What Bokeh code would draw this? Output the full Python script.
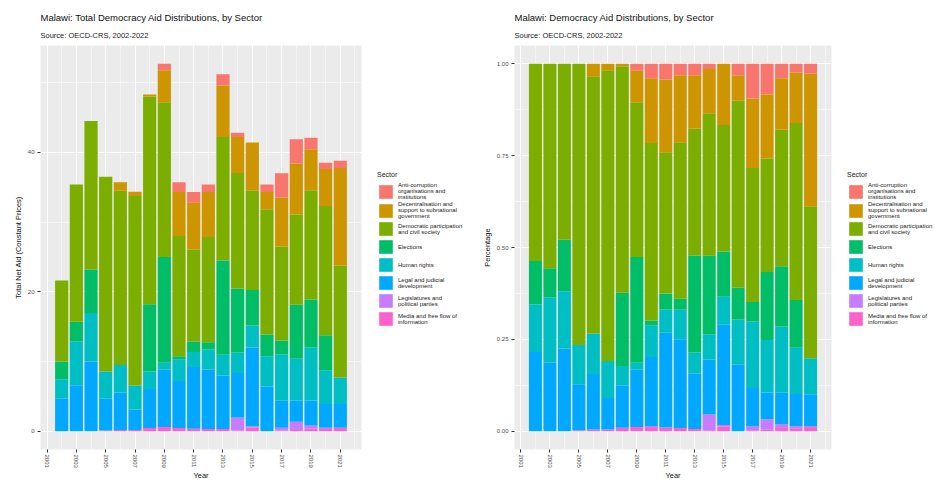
from bokeh.plotting import figure
from bokeh.models import (ColumnDataSource, Legend, LegendItem, Title, FixedTicker,
                          NumeralTickFormatter, Range1d)
from bokeh.layouts import row
from bokeh.embed import file_html
from bokeh.resources import INLINE
import pandas as pd

# ---------------- data ----------------
years = list(range(2002, 2022))
anti_corruption = [0, 0, 0, 0, 0, 0, 0, 0.9, 1.4, 1.45, 1.1, 1.6, 0.6, 0, 1.1, 3.5, 3.5, 1.65, 0.9, 1.05]
decentralisation = [0, 0, 0, 0, 1.2, 0.6, 0.3, 4.6, 6.3, 6.8, 6.45, 7.4, 5.15, 6.9, 2.45, 7.0, 7.3, 5.9, 5.3, 14.0]
democratic_participation = [11.6, 19.7, 21.3, 27.95, 25.0, 27.2, 29.8, 22.2, 17.25, 13.2, 15.1, 17.7, 16.6, 14.25, 18.0, 13.5, 12.95, 15.65, 18.55, 16.05]
elections = [2.55, 2.8, 6.25, 0, 0, 0, 9.65, 15.2, 0.45, 1.5, 1.05, 13.55, 9.15, 5.1, 3.1, 1.95, 7.75, 6.9, 5.0, 0]
human_rights = [2.8, 6.3, 6.95, 3.9, 3.95, 3.45, 2.5, 1.0, 3.1, 2.15, 2.85, 2.95, 2.95, 3.15, 4.35, 6.7, 6.0, 7.6, 4.85, 3.8]
legal_judicial = [4.65, 6.6, 10.0, 4.55, 5.4, 2.95, 5.6, 8.2, 6.75, 8.85, 8.55, 7.7, 6.4, 11.3, 6.4, 3.85, 3.05, 3.6, 3.4, 3.4]
legislatures = [0, 0, 0, 0, 0, 0, 0, 0, 0, 0, 0, 0, 1.85, 0.2, 0, 0.4, 1.2, 0.45, 0.2, 0]
media = [0, 0, 0, 0.1, 0.15, 0.15, 0.45, 0.6, 0.45, 0.35, 0.3, 0.3, 0.1, 0.5, 0, 0.1, 0.15, 0.35, 0.3, 0.5]

sector_keys = ["anti", "decent", "democ", "elect", "human", "legal", "legis", "media"]
sector_labels = [
    "Anti-corruption\norganisations and\ninstitutions",
    "Decentralisation and\nsupport to subnational\ngovernment",
    "Democratic participation\nand civil society",
    "Elections",
    "Human rights",
    "Legal and judicial\ndevelopment",
    "Legislatures and\npolitical parties",
    "Media and free flow of\ninformation",
]
sector_colors = ["#F8766D", "#CD9600", "#7CAE00", "#00BE67", "#00BFC4", "#00A9FF", "#C77CFF", "#FF61CC"]

x_major_ticks = list(range(2001, 2022, 2))
x_minor_ticks = list(range(2000, 2024, 2))
left_y_ticks = [0, 20, 40]
left_y_minor = [10, 30, 50]
right_y_ticks = [0, 0.25, 0.5, 0.75, 1.0]
right_y_minor = [0.125, 0.375, 0.625, 0.875]

df = pd.DataFrame({
    "year": years,
    "anti": anti_corruption, "decent": decentralisation, "democ": democratic_participation,
    "elect": elections, "human": human_rights, "legal": legal_judicial,
    "legis": legislatures, "media": media,
})
df["total"] = df[sector_keys].sum(axis=1)
pct = df.copy()
for k in sector_keys:
    pct[k] = df[k] / df["total"]

FONT = "Liberation Sans"
bar_w = 0.9
x_lo = min(years) - bar_w / 2
x_hi = max(years) + bar_w / 2
x_pad = (x_hi - x_lo) * 0.05
FIG_H = 482
B_TOP, B_BOT = 45, 29
stack_order = list(reversed(sector_keys))
stack_colors = list(reversed(sector_colors))


def make_panel(data, title, subtitle, ylabel, y_ticks, y_minor, ymax, width,
               left_border, right_border, fmt=None):
    src = ColumnDataSource(data)
    p = figure(output_backend="svg", toolbar_location=None,
               width=width, height=FIG_H,
               min_border_left=left_border, min_border_right=right_border,
               min_border_top=B_TOP, min_border_bottom=B_BOT,
               x_range=Range1d(x_lo - x_pad, x_hi + x_pad),
               y_range=Range1d(-0.05 * ymax, 1.05 * ymax))
    p.background_fill_color = "#EBEBEB"
    p.border_fill_color = "white"
    p.outline_line_color = None

    p.vbar_stack(stack_order, x="year", width=bar_w, color=stack_colors,
                 line_color=None, source=src)

    # titles
    p.add_layout(Title(text=subtitle, align="left", text_font=FONT, text_font_size="7.5px",
                       text_font_style="normal", text_color="#222222", standoff=12), "above")
    p.add_layout(Title(text=title, align="left", text_font=FONT, text_font_size="9.5px",
                       text_font_style="normal", text_color="#111111", standoff=0), "above")

    # axes
    p.xaxis.ticker = FixedTicker(ticks=x_major_ticks, minor_ticks=x_minor_ticks)
    p.yaxis.ticker = FixedTicker(ticks=y_ticks, minor_ticks=y_minor)
    if fmt is not None:
        p.yaxis.formatter = fmt
    p.xaxis.major_label_orientation = "vertical"
    for ax in (p.xaxis, p.yaxis):
        ax.axis_line_color = None
        ax.major_tick_line_color = "#333333"
        ax.major_tick_in = 0
        ax.major_tick_out = 3
        ax.minor_tick_line_color = None
        ax.major_label_text_font = FONT
        ax.major_label_text_font_size = "6px"
        ax.major_label_text_color = "#4D4D4D"
        ax.major_label_standoff = 2
        ax.axis_label_text_font = FONT
        ax.axis_label_text_font_size = "7.5px"
        ax.axis_label_text_font_style = "normal"
        ax.axis_label_text_color = "#111111"
        ax.axis_label_standoff = 2
    p.xaxis.major_label_standoff = 1
    p.xaxis.axis_label_standoff = 0
    p.xaxis.axis_label = "Year"
    p.yaxis.axis_label = ylabel

    for g in (p.xgrid, p.ygrid):
        g.grid_line_color = "white"
        g.grid_line_width = 1
        g.minor_grid_line_color = "white"
        g.minor_grid_line_width = 0.5
    return p


def make_legend(data, width):
    src = ColumnDataSource(data)
    lp = figure(output_backend="svg", toolbar_location=None, width=width, height=FIG_H,
                x_axis_type=None, y_axis_type=None, min_border=0,
                x_range=Range1d(0, 1), y_range=Range1d(0, 1))
    lp.outline_line_color = None
    lp.background_fill_color = "white"
    lp.grid.visible = False
    rends = lp.vbar_stack(stack_order, x="year", width=bar_w, color=stack_colors,
                          line_color=None, source=src, visible=False)
    rend_map = dict(zip(stack_order, rends))
    items = [LegendItem(label=lab, renderers=[rend_map[k]]) for k, lab in zip(sector_keys, sector_labels)]
    legend = Legend(items=items, title="Sector", location=(12, 122),
                    title_text_font=FONT, title_text_font_size="7px", title_text_font_style="normal",
                    title_text_color="#222222", title_standoff=4,
                    label_text_font=FONT, label_text_font_size="6px", label_text_color="#222222",
                    label_text_line_height=1.0,
                    label_standoff=4, label_height=17, glyph_width=17, glyph_height=17, spacing=1,
                    padding=4, margin=0, border_line_color=None, background_fill_alpha=0,
                    inactive_fill_alpha=0)
    lp.add_layout(legend)
    return lp


ymax_left = df["total"].max()
left = make_panel(df, "Malawi: Total Democracy Aid Distributions, by Sector",
                  "Source: OECD-CRS, 2002-2022", "Total Net Aid (Constant Prices)",
                  left_y_ticks, left_y_minor, ymax_left, 365, 40, 4)
left_leg = make_legend(df, 110)
right = make_panel(pct, "Malawi: Democracy Aid Distributions, by Sector",
                   "Source: OECD-CRS, 2002-2022", "Percentage",
                   right_y_ticks, right_y_minor, 1.0, 360, 39, 4,
                   fmt=NumeralTickFormatter(format="0.00"))
right_leg = make_legend(pct, 101)

layout = row(left, left_leg, right, right_leg)
open("out.html", "w").write(file_html(layout, INLINE))
